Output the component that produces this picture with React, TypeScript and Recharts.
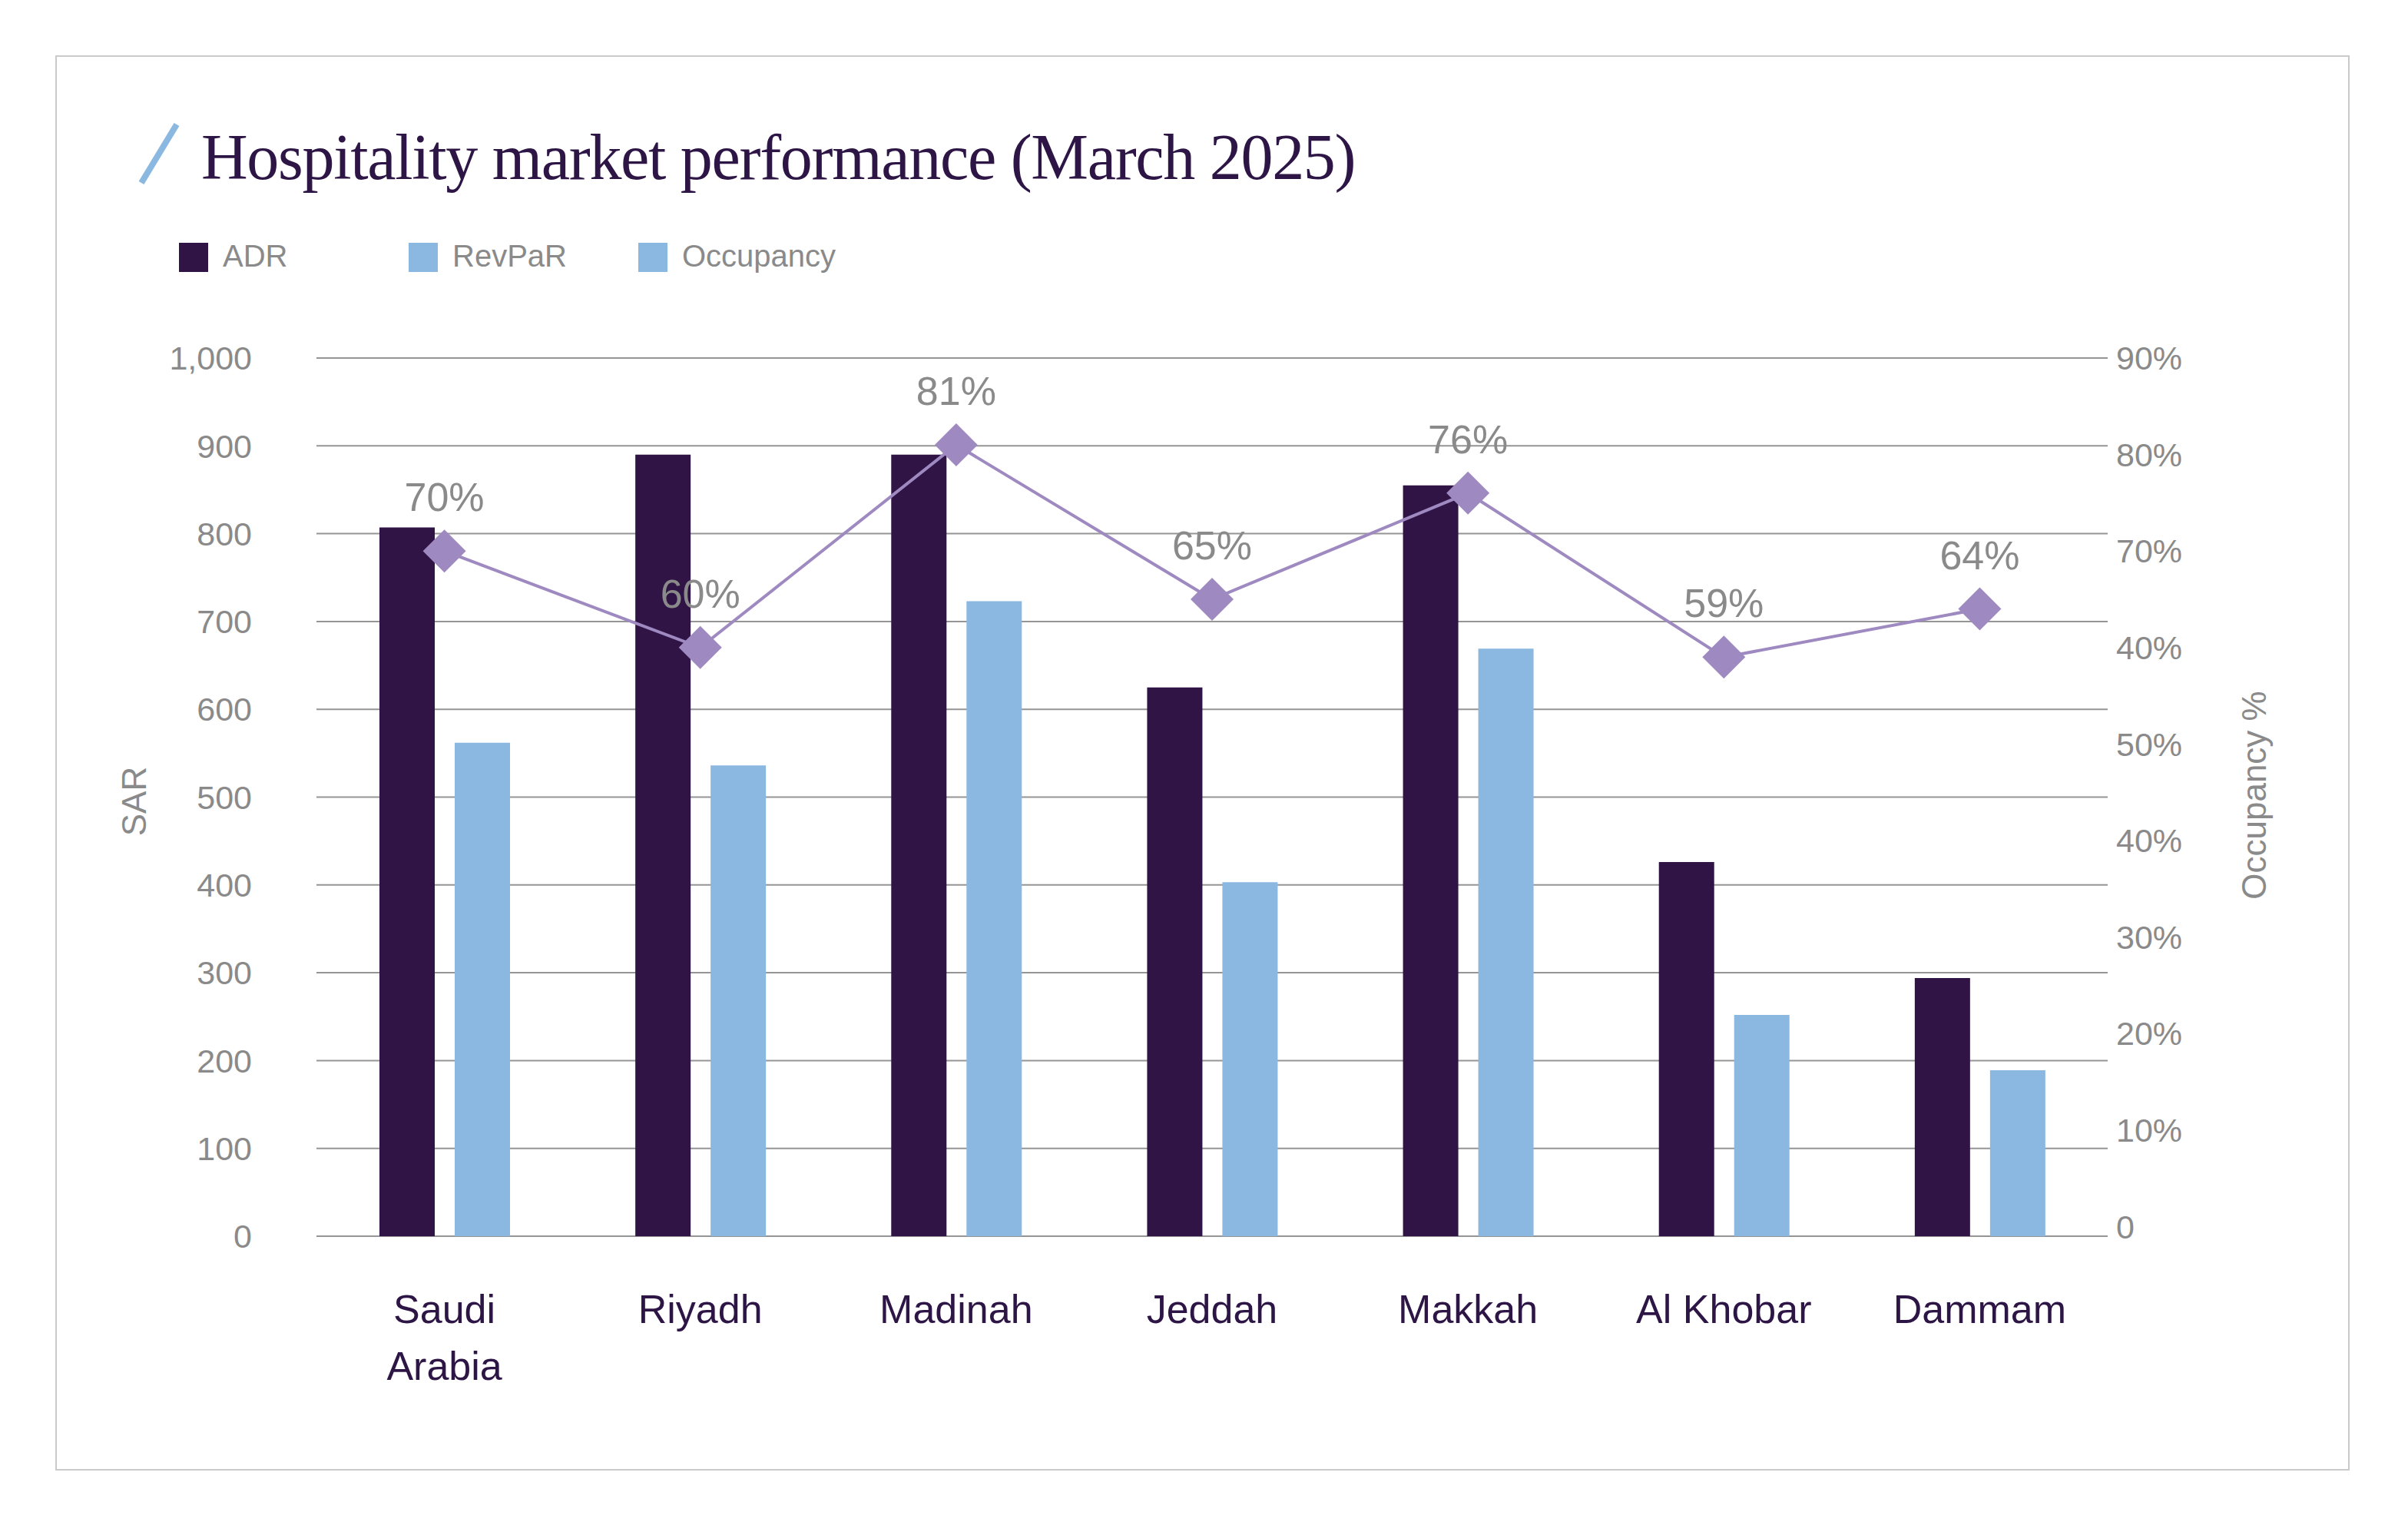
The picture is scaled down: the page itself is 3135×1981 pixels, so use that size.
import React from 'react';
import {
  ComposedChart,
  Bar,
  Line,
  XAxis,
  YAxis,
  CartesianGrid,
  LabelList,
} from 'recharts';

// data
const cities = ['Saudi Arabia', 'Riyadh', 'Madinah', 'Jeddah', 'Makkah', 'Al Khobar', 'Dammam'];
const adr = [807, 890, 890, 625, 855, 426, 294];
const revpar = [562, 536, 723, 403, 669, 252, 189];
const occupancy = [70, 60, 81, 65, 76, 59, 64];

const sarTicks = [0, 100, 200, 300, 400, 500, 600, 700, 800, 900, 1000];
const occTicks = [0, 10, 20, 30, 40, 50, 60, 70, 80, 90];
// right axis labels exactly as printed in the source
const occTickLabels = ['0', '10%', '20%', '30%', '40%', '50%', '40%', '70%', '80%', '90%'];

const legendItems = ['ADR', 'RevPaR', 'Occupancy'];

const INK = '#2d1545';
const ADR_COLOR = '#301445';
const REVPAR_COLOR = '#8bb8e1';
const LINE_COLOR = '#9e89c1';
const MUTED = '#8a8a8a';
const GRID = '#959595';
const SANS = '"Liberation Sans", Arial, Helvetica, sans-serif';
const SERIF = '"Liberation Serif", "Times New Roman", serif';

const legendColors = [ADR_COLOR, REVPAR_COLOR, REVPAR_COLOR];

const chartData = cities.map((name, i) => ({
  name,
  adr: adr[i],
  revpar: revpar[i],
  occupancy: occupancy[i],
}));

// long names (Saudi Arabia) go on two lines, like the source
const CityTick = ({ x, y, payload }: any) => {
  const value: string = payload.value;
  const lines = value.length > 10 ? value.split(' ') : [value];
  return (
    <text x={x} y={y + 111} textAnchor="middle" fill={INK} fontSize={52} fontFamily={SANS}>
      {lines.map((line, i) => (
        <tspan key={line} x={x} dy={i === 0 ? 0 : 74}>
          {line}
        </tspan>
      ))}
    </text>
  );
};

const Diamond = (props: any) => {
  const { cx, cy, index } = props;
  if (cx == null || cy == null) return <g key={`d-${index}`} />;
  const r = 28;
  return (
    <polygon
      key={`d-${index}`}
      points={`${cx},${cy - r} ${cx + r},${cy} ${cx},${cy + r} ${cx - r},${cy}`}
      fill={LINE_COLOR}
    />
  );
};

const App: React.FC = () => {
  return (
    <div style={{ position: 'absolute', left: 0, top: 0, width: 3135, height: 1981, background: '#fff' }}>
      {/* frame */}
      <div
        style={{
          position: 'absolute',
          left: 72,
          top: 72,
          width: 2987,
          height: 1842,
          border: '2px solid #cacaca',
          boxSizing: 'border-box',
        }}
      />

      <div style={{ position: 'absolute', left: 0, top: 0 }}>
        <ComposedChart
          width={3135}
          height={1981}
          data={chartData}
          margin={{ top: 466, right: 191, bottom: 172, left: 212 }}
          barSize={72}
          barGap={26}
        >
          <CartesianGrid vertical={false} yAxisId="sar" stroke={GRID} strokeWidth={2} />
          <XAxis
            dataKey="name"
            axisLine={false}
            tickLine={false}
            tickSize={0}
            height={200}
            tick={<CityTick />}
            interval={0}
          />
          <YAxis
            yAxisId="sar"
            domain={[0, 1000]}
            ticks={sarTicks}
            width={200}
            axisLine={false}
            tickLine={false}
            tickSize={0}
            tickMargin={84}
            tickFormatter={(v: number) => v.toLocaleString('en-US')}
            tick={{ fill: MUTED, fontSize: 43, fontFamily: SANS }}
          />
          <YAxis
            yAxisId="occ"
            orientation="right"
            domain={[-1, 90]}
            ticks={occTicks}
            width={200}
            axisLine={false}
            tickLine={false}
            tickSize={0}
            tickMargin={11}
            tickFormatter={(v: number) => occTickLabels[occTicks.indexOf(v)]}
            tick={{ fill: MUTED, fontSize: 43, fontFamily: SANS, textAnchor: 'start' }}
          />
          <Bar yAxisId="sar" dataKey="adr" name="ADR" fill={ADR_COLOR} isAnimationActive={false} />
          <Bar yAxisId="sar" dataKey="revpar" name="RevPaR" fill={REVPAR_COLOR} isAnimationActive={false} />
          <Line
            yAxisId="occ"
            dataKey="occupancy"
            name="Occupancy"
            stroke={LINE_COLOR}
            strokeWidth={4}
            dot={Diamond}
            activeDot={false}
            isAnimationActive={false}
          >
            <LabelList
              dataKey="occupancy"
              position="top"
              offset={52}
              formatter={(v: number) => `${v}%`}
              fill={MUTED}
              style={{ fontSize: 52, fontFamily: SANS }}
            />
          </Line>
        </ComposedChart>
      </div>

      {/* title, legend and axis titles */}
      <svg width={3135} height={1981} style={{ position: 'absolute', left: 0, top: 0, pointerEvents: 'none' }}>
        <line x1={184} y1={238} x2={230} y2={162} stroke={REVPAR_COLOR} strokeWidth={8} />
        <text x={262} y={233} fill={INK} fontSize={84} fontFamily={SERIF} letterSpacing={-1.3}>
          Hospitality market performance (March 2025)
        </text>

        {legendItems.map((label, i) => (
          <g key={label} transform={`translate(${233 + i * 299}, 316)`}>
            <rect x={0} y={0} width={38} height={38} fill={legendColors[i]} />
            <text x={57} y={31} fill={MUTED} fontSize={40} fontFamily={SANS}>
              {label}
            </text>
          </g>
        ))}

        <text
          transform="translate(174, 1043) rotate(-90)"
          textAnchor="middle"
          dominantBaseline="central"
          fill={MUTED}
          fontSize={44}
          fontFamily={SANS}
        >
          SAR
        </text>
        <text
          transform="translate(2934, 1035) rotate(-90)"
          textAnchor="middle"
          dominantBaseline="central"
          fill={MUTED}
          fontSize={44}
          fontFamily={SANS}
        >
          Occupancy %
        </text>
      </svg>
    </div>
  );
};

export default App;
